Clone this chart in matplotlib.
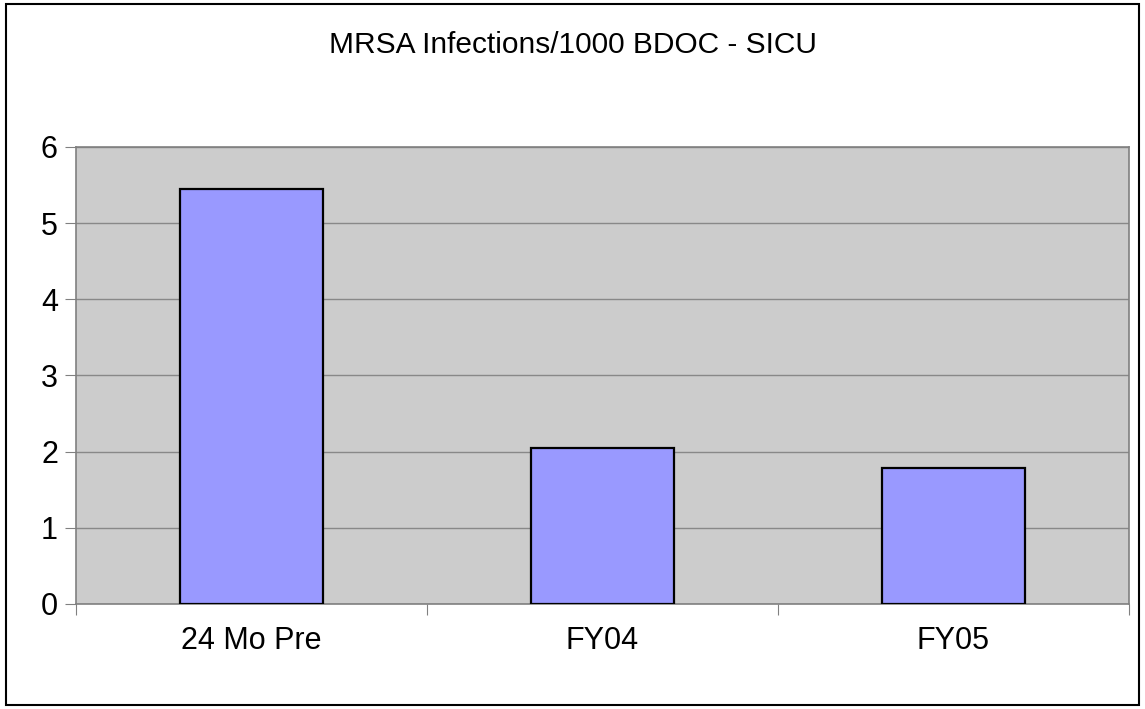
import matplotlib
matplotlib.use("Agg")
import matplotlib.pyplot as plt
import matplotlib.patches as mpatches
import numpy as np

plt.rcParams["font.family"] = ["Liberation Sans", "DejaVu Sans"]

categorias = ["24 Mo Pre", "FY04", "FY05"]
valores    = [5.45, 2.05, 1.78]
titulo     = "MRSA Infections/1000 BDOC - SICU"

fig = plt.figure(figsize=(11.45, 7.09), dpi=100)
fig.patch.set_facecolor("white")

# borda externa do grafico
fig.patches.append(mpatches.Rectangle((0.005, 0.006), 0.990, 0.988,
                                      transform=fig.transFigure, fill=False,
                                      edgecolor="black", linewidth=1.5))

ax = fig.add_axes([0.0664, 0.1481, 0.9196, 0.6446])
ax.set_facecolor("#CCCCCC")

x = np.arange(len(categorias))
ax.bar(x, valores, 0.41, color="#9999FF", edgecolor="black", linewidth=1.6, zorder=3)

ax.set_xlim(-0.5, len(categorias) - 0.5)
ax.set_ylim(0, 6)
ax.set_yticks(range(0, 7))
ax.grid(axis="y", color="#888888", linewidth=1, zorder=0)
ax.set_axisbelow(True)

# ticks de x nas divisoes entre categorias, rotulos no centro
ax.set_xticks(np.arange(-0.5, len(categorias)), labels=[""] * (len(categorias) + 1))
ax.set_xticks(x, labels=categorias, minor=True)
ax.tick_params(axis="x", which="minor", length=0, pad=16, labelsize=22)
ax.tick_params(axis="x", which="major", length=8, color="#808080", direction="out")
ax.tick_params(axis="y", length=8, color="#808080", labelsize=22, pad=5)

for lado in ["left", "bottom", "top", "right"]:
    ax.spines[lado].set_color("#808080")
    ax.spines[lado].set_linewidth(1.2)

fig.text(0.5, 0.937, titulo, ha="center", va="center", fontsize=21.5)

plt.savefig("out.png", dpi=100)
plt.close()
